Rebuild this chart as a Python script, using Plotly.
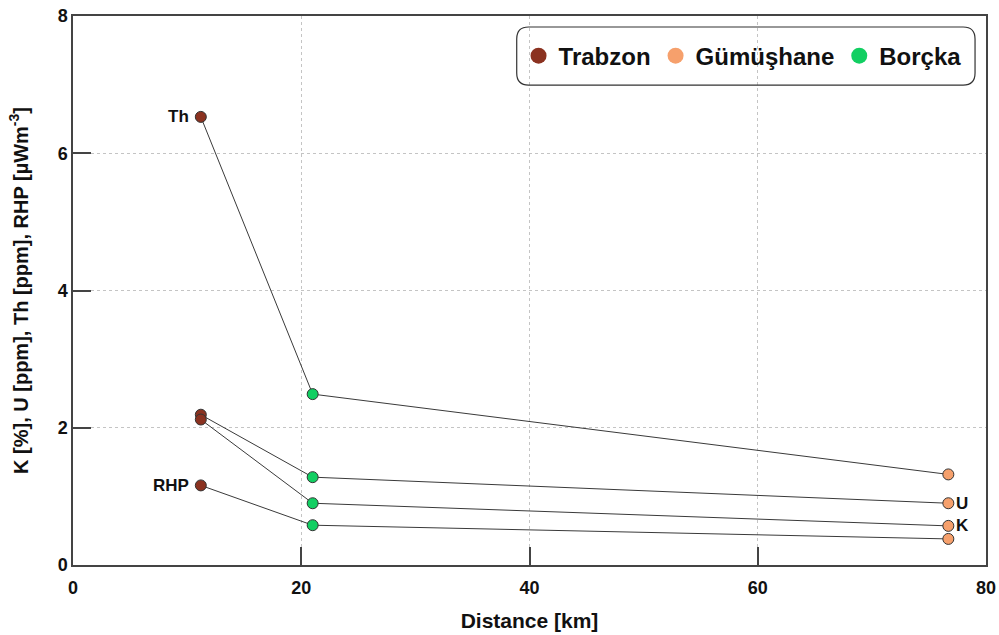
import plotly.graph_objects as go

# Sampling sites and their distance along the profile (km)
sites = ["Trabzon", "Borçka", "Gümüşhane"]
distance_km = [11.2, 21.0, 76.7]

# Measured parameters (one line per parameter, through the three sites)
params = ["Th", "U", "K", "RHP"]
trabzon = [6.53, 2.19, 2.12, 1.16]
borcka = [2.49, 1.28, 0.90, 0.58]
gumushane = [1.32, 0.90, 0.57, 0.38]

site_colors = {"Trabzon": "#8B3220", "Gümüşhane": "#F6A06C", "Borçka": "#12CF62"}
legend_order = ["Trabzon", "Gümüşhane", "Borçka"]
site_values = {"Trabzon": trabzon, "Borçka": borcka, "Gümüşhane": gumushane}

FONT = "Liberation Sans, Arial, sans-serif"

fig = go.Figure()

# connecting lines for each parameter
for i, p in enumerate(params):
    fig.add_trace(go.Scatter(
        x=distance_km,
        y=[trabzon[i], borcka[i], gumushane[i]],
        mode="lines",
        line=dict(color="#3a3a3a", width=1),
        showlegend=False,
        hoverinfo="skip",
    ))

# site markers
for s, d in zip(sites, distance_km):
    fig.add_trace(go.Scatter(
        x=[d] * len(params),
        y=site_values[s],
        mode="markers",
        marker=dict(size=11, color=site_colors[s], line=dict(color="#333333", width=1)),
        name=s,
        showlegend=False,
    ))

# legend entries
for s in legend_order:
    fig.add_trace(go.Scatter(
        x=[None], y=[None],
        mode="markers",
        marker=dict(size=16, color=site_colors[s]),
        name=s,
        showlegend=True,
    ))

# parameter labels
label_font = dict(family=FONT, size=17, color="#111111")
fig.add_annotation(x=distance_km[0], y=trabzon[0], text="<b>Th</b>", showarrow=False,
                   xanchor="right", xshift=-10, font=label_font)
fig.add_annotation(x=distance_km[0], y=trabzon[3], text="<b>RHP</b>", showarrow=False,
                   xanchor="right", xshift=-10, font=label_font)
fig.add_annotation(x=distance_km[2], y=gumushane[1], text="<b>U</b>", showarrow=False,
                   xanchor="left", xshift=6, font=label_font)
fig.add_annotation(x=distance_km[2], y=gumushane[2], text="<b>K</b>", showarrow=False,
                   xanchor="left", xshift=6, font=label_font)

# rounded legend frame
x0, x1, y0, y1 = 0.486, 0.988, 0.874, 0.980
rx, ry = 0.013, 0.022
path = (f"M {x0+rx},{y1} L {x1-rx},{y1} Q {x1},{y1} {x1},{y1-ry} "
        f"L {x1},{y0+ry} Q {x1},{y0} {x1-rx},{y0} "
        f"L {x0+rx},{y0} Q {x0},{y0} {x0},{y0+ry} "
        f"L {x0},{y1-ry} Q {x0},{y1} {x0+rx},{y1} Z")
fig.add_shape(type="path", path=path, xref="paper", yref="paper",
              line=dict(color="#333333", width=1.2), fillcolor="rgba(0,0,0,0)")

axis_common = dict(
    showline=True, linecolor="#444444", linewidth=1.5, mirror=True,
    ticks="inside", ticklen=18, tickcolor="#444444", tickwidth=1.5,
    showgrid=True, gridcolor="#c4c4c4", griddash="dot", gridwidth=1,
    zeroline=False, automargin=False,
    tickfont=dict(family=FONT, size=18, color="#111111", weight="bold"),
)

fig.update_xaxes(
    range=[0, 80], dtick=20, tick0=0, ticklabelstandoff=6,
    title=dict(text="<b>Distance [km]</b>", font=dict(family=FONT, size=21, color="#111111"), standoff=16),
    **axis_common,
)
fig.update_yaxes(
    range=[0, 8], dtick=2, tick0=0,
    title=dict(text="<b>K [%], U [ppm], Th [ppm], RHP [µWm<sup>-3</sup>]</b>",
               font=dict(family=FONT, size=20, color="#111111"), standoff=24),
    **axis_common,
)

fig.update_layout(
    width=999, height=635,
    margin=dict(l=73, r=13, t=16, b=70),
    paper_bgcolor="white", plot_bgcolor="white",
    showlegend=True,
    legend=dict(
        orientation="h", x=0.488, y=0.927, xanchor="left", yanchor="middle",
        bgcolor="rgba(0,0,0,0)", borderwidth=0,
        font=dict(family=FONT, size=24, color="#111111", weight="bold"),
        itemwidth=30, tracegroupgap=0,
    ),
)

fig.write_html("out.html")
